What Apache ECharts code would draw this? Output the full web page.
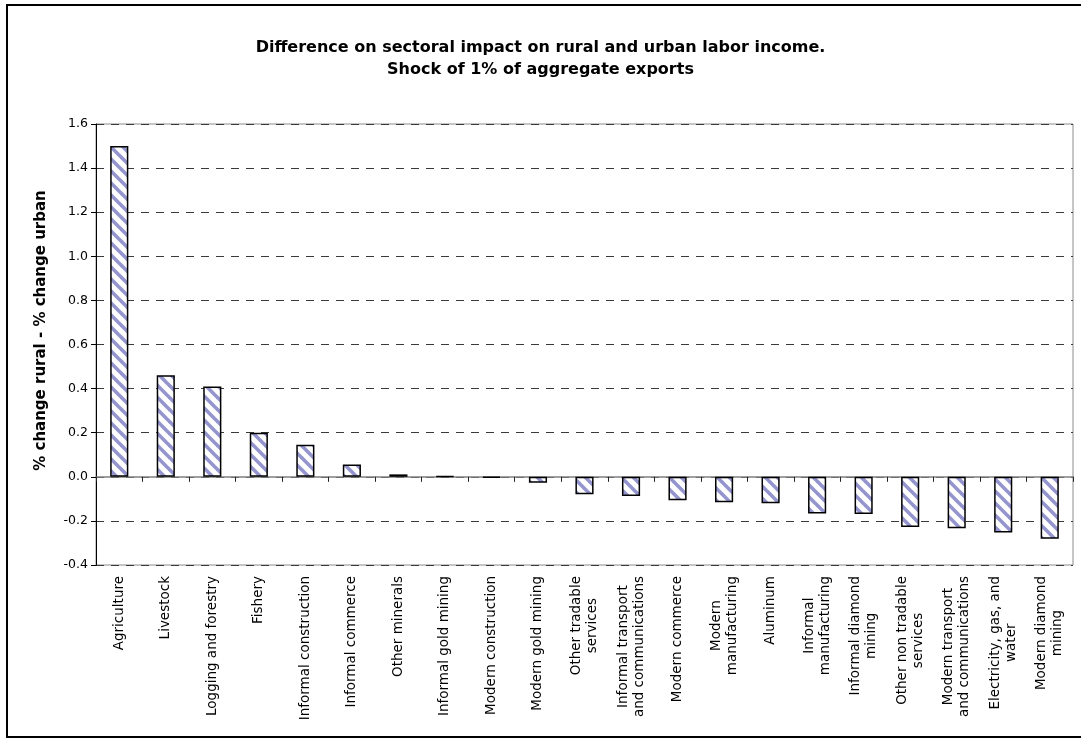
<!DOCTYPE html>
<html><head><meta charset="utf-8">
<script src="https://cdn.jsdelivr.net/npm/echarts@6/dist/echarts.min.js"></script>
<style>html,body{margin:0;padding:0;background:#fff}#c{width:1081px;height:744px}</style>
</head><body><div id="c"></div>
<script>
const titleText = 'Difference on sectoral impact on rural and urban labor income.\nShock of 1% of aggregate exports';
const yAxisName = '% change rural - % change urban';
const categories = [
  'Agriculture', 'Livestock', 'Logging and forestry', 'Fishery',
  'Informal construction', 'Informal commerce', 'Other minerals',
  'Informal gold mining', 'Modern construction', 'Modern gold mining',
  'Other tradable\nservices', 'Informal transport\nand communications',
  'Modern commerce', 'Modern\nmanufacturing', 'Aluminum',
  'Informal\nmanufacturing', 'Informal diamond\nmining',
  'Other non tradable\nservices', 'Modern transport\nand communications',
  'Electricity, gas, and\nwater', 'Modern diamond\nmining'
];
const values = [
  1.50, 0.46, 0.41, 0.20, 0.145, 0.056, 0.011, 0.003, -0.004, -0.027,
  -0.079, -0.087, -0.106, -0.115, -0.120, -0.166, -0.169, -0.228, -0.233, -0.253, -0.281
];
const yMin = -0.4, yMax = 1.6, yStep = 0.2;

function hatch() {
  const n = 12;
  const c = document.createElement('canvas');
  c.width = n; c.height = n;
  const g = c.getContext('2d');
  g.fillStyle = '#ffffff'; g.fillRect(0, 0, n, n);
  g.strokeStyle = '#9494cf'; g.lineWidth = 3.6;
  for (let k = -1; k <= 1; k++) {
    g.beginPath(); g.moveTo(-2, k * n - 2); g.lineTo(n + 2, k * n + n + 2); g.stroke();
  }
  return c;
}

const FONT = 'DejaVu Sans';
const chart = echarts.init(document.getElementById('c'));
chart.setOption({
  animation: false,
  backgroundColor: '#ffffff',
  title: {
    text: titleText,
    left: 'center', top: 32,
    textStyle: { fontFamily: FONT, fontWeight: 'bold', fontSize: 16, lineHeight: 22, color: '#000' }
  },
  graphic: [{
    type: 'rect', silent: true,
    shape: { x: 7, y: 5, width: 1100, height: 732 },
    style: { fill: 'none', stroke: '#000', lineWidth: 2 }
  }],
  grid: {
    left: 96, right: 8, top: 124, bottom: 179,
    show: true, borderColor: '#8c8c8c', borderWidth: 1,
    outerBoundsMode: 'none'
  },
  xAxis: [{
    type: 'category', data: categories, position: 'bottom',
    axisLine: { onZero: true, lineStyle: { color: '#808080', width: 1.5 } },
    axisTick: { show: true, interval: 0, length: 5, lineStyle: { color: '#222' } },
    axisLabel: { show: false },
    splitLine: { show: false }
  }, {
    type: 'category', data: categories, position: 'bottom',
    axisLine: { show: false, onZero: false },
    axisTick: { show: false },
    axisLabel: {
      rotate: 90, margin: 11, interval: 0,
      fontFamily: FONT, fontSize: 13.5, color: '#000',
      formatter: v => v.split('\n').map(s => '{c|' + s + '}').join('\n'),
      rich: { c: { align: 'center', fontFamily: FONT, fontSize: 13.5, color: '#000', lineHeight: 16 } }
    }
  }],
  yAxis: {
    type: 'value', min: yMin, max: yMax, interval: yStep,
    name: yAxisName, nameLocation: 'middle', nameGap: 47,
    nameTextStyle: { fontFamily: FONT, fontWeight: 'bold', fontSize: 15, color: '#000', padding: [0, 0, 0, 28] },
    axisLine: { show: true, lineStyle: { color: '#000', width: 1 } },
    axisTick: { show: true, length: 5, lineStyle: { color: '#000' } },
    axisLabel: {
      fontFamily: FONT, fontSize: 12.5, color: '#000', margin: 8,
      formatter: v => v.toFixed(1)
    },
    splitLine: { show: true, lineStyle: { color: '#3a3a3a', type: [8, 7], width: 1 } }
  },
  series: [{
    type: 'bar', data: values, xAxisIndex: 0,
    barWidth: '39%', silent: true,
    itemStyle: {
      color: { image: hatch(), repeat: 'repeat' },
      borderColor: '#000', borderWidth: 1.5
    }
  }]
});
</script></body></html>
